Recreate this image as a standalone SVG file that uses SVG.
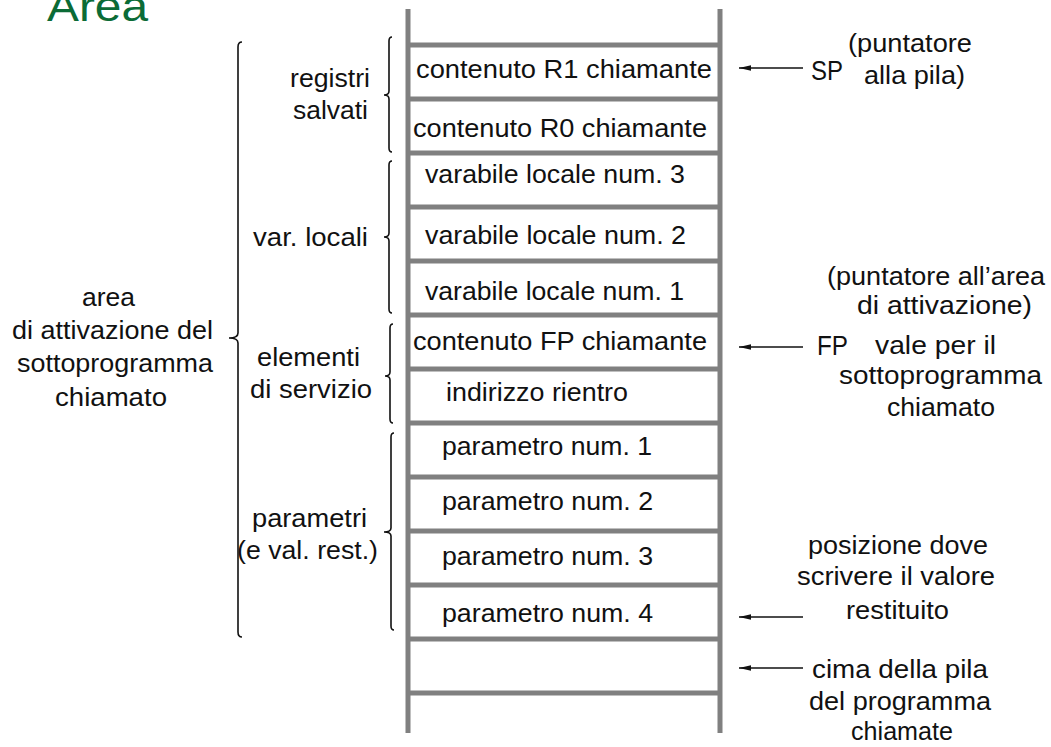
<svg xmlns="http://www.w3.org/2000/svg" width="1051" height="747" viewBox="0 0 1051 747">
  <style>
    text { font-family: "Liberation Sans", Arial, sans-serif; font-size: 25.5px; fill: #111; }
    .big { font-size: 27px; }
    .title { font-size: 42px; fill: #0b6b36; }
    .rail { stroke: #808080; stroke-width: 5; fill: none; }
    .sep { stroke: #808080; stroke-width: 5; }
    .brace { stroke: #111; stroke-width: 1.6; fill: none; stroke-linejoin: miter; }
    .ptr { stroke: #111; stroke-width: 1.6; marker-end: url(#head); }
  </style>
  <defs>
    <marker id="head" markerUnits="userSpaceOnUse" markerWidth="14" markerHeight="8" refX="12" refY="4" orient="auto">
      <path d="M0,1.2 L12,4 L0,6.8 Z" fill="#111"/>
    </marker>
  </defs>
  <rect width="1051" height="747" fill="#fff"/>

  <text class="title" x="47" y="21" textLength="101" lengthAdjust="spacingAndGlyphs">Area</text>

  <!-- stack frame: rails and cell separators -->
  <g id="stack">
    <line class="rail" x1="408" y1="9" x2="408" y2="733"/>
    <line class="rail" x1="720" y1="9" x2="720" y2="733"/>
    <line class="sep" x1="408" y1="45" x2="720" y2="45"/>
    <line class="sep" x1="408" y1="99" x2="720" y2="99"/>
    <line class="sep" x1="408" y1="153" x2="720" y2="153"/>
    <line class="sep" x1="408" y1="207" x2="720" y2="207"/>
    <line class="sep" x1="408" y1="261" x2="720" y2="261"/>
    <line class="sep" x1="408" y1="315" x2="720" y2="315"/>
    <line class="sep" x1="408" y1="369" x2="720" y2="369"/>
    <line class="sep" x1="408" y1="423" x2="720" y2="423"/>
    <line class="sep" x1="408" y1="477" x2="720" y2="477"/>
    <line class="sep" x1="408" y1="531" x2="720" y2="531"/>
    <line class="sep" x1="408" y1="585" x2="720" y2="585"/>
    <line class="sep" x1="408" y1="639" x2="720" y2="639"/>
    <line class="sep" x1="408" y1="693" x2="720" y2="693"/>
  </g>

  <g id="cell-r1"><text x="416" y="78" textLength="296" lengthAdjust="spacingAndGlyphs">contenuto R1 chiamante</text></g>
  <g id="cell-r0"><text x="413" y="137" textLength="294" lengthAdjust="spacingAndGlyphs">contenuto R0 chiamante</text></g>
  <g id="cell-var3"><text x="425" y="183" textLength="260" lengthAdjust="spacingAndGlyphs">varabile locale num. 3</text></g>
  <g id="cell-var2"><text x="425" y="244" textLength="261" lengthAdjust="spacingAndGlyphs">varabile locale num. 2</text></g>
  <g id="cell-var1"><text x="425" y="300" textLength="259" lengthAdjust="spacingAndGlyphs">varabile locale num. 1</text></g>
  <g id="cell-fp"><text x="413" y="350" textLength="294" lengthAdjust="spacingAndGlyphs">contenuto FP chiamante</text></g>
  <g id="cell-ret"><text x="446" y="401" textLength="182" lengthAdjust="spacingAndGlyphs">indirizzo rientro</text></g>
  <g id="cell-p1"><text x="442" y="455" textLength="210" lengthAdjust="spacingAndGlyphs">parametro num. 1</text></g>
  <g id="cell-p2"><text x="442" y="510" textLength="211" lengthAdjust="spacingAndGlyphs">parametro num. 2</text></g>
  <g id="cell-p3"><text x="442" y="565" textLength="211" lengthAdjust="spacingAndGlyphs">parametro num. 3</text></g>
  <g id="cell-p4"><text x="442" y="622" textLength="211" lengthAdjust="spacingAndGlyphs">parametro num. 4</text></g>

  <!-- braces grouping the cells -->
  <g id="braces">
    <path class="brace" d="M242,42 Q238,42 238,47 L238,333 Q238,338 229,338 Q238,338 238,343 L238,632 Q238,637 242,637"/>
    <path class="brace" d="M392,37 Q389,37 389,41 L389,91 Q389,95 384,95 Q389,95 389,99 L389,148 Q389,152 392,152"/>
    <path class="brace" d="M392,161 Q389,161 389,165 L389,233 Q389,237 384,237 Q389,237 389,241 L389,309 Q389,313 392,313"/>
    <path class="brace" d="M393,324 Q390,324 390,328 L390,372 Q390,376 385,376 Q390,376 390,380 L390,419 Q390,423 393,423"/>
    <path class="brace" d="M394,433 Q391,433 391,437 L391,528 Q391,532 384,532 Q391,532 391,536 L391,626 Q391,630 394,630"/>
  </g>

  <g id="label-area">
    <text x="82" y="306" textLength="53" lengthAdjust="spacingAndGlyphs">area</text>
    <text x="12" y="339" textLength="201" lengthAdjust="spacingAndGlyphs">di attivazione del</text>
    <text x="17" y="372" textLength="196" lengthAdjust="spacingAndGlyphs">sottoprogramma</text>
    <text x="55" y="406" textLength="112" lengthAdjust="spacingAndGlyphs">chiamato</text>
  </g>
  <g id="label-registri">
    <text x="290" y="87" textLength="80" lengthAdjust="spacingAndGlyphs">registri</text>
    <text x="293" y="119" textLength="75" lengthAdjust="spacingAndGlyphs">salvati</text>
  </g>
  <g id="label-locali">
    <text x="253" y="246" textLength="115" lengthAdjust="spacingAndGlyphs">var. locali</text>
  </g>
  <g id="label-servizio">
    <text x="257" y="366" textLength="103" lengthAdjust="spacingAndGlyphs">elementi</text>
    <text x="250" y="398" textLength="122" lengthAdjust="spacingAndGlyphs">di servizio</text>
  </g>
  <g id="label-parametri">
    <text x="252" y="527" textLength="115" lengthAdjust="spacingAndGlyphs">parametri</text>
    <text x="237" y="559" textLength="141" lengthAdjust="spacingAndGlyphs">(e val. rest.)</text>
  </g>

  <g id="label-sp">
    <text class="big" x="811" y="80" textLength="32" lengthAdjust="spacingAndGlyphs">SP</text>
    <text x="848" y="52" textLength="124" lengthAdjust="spacingAndGlyphs">(puntatore</text>
    <text x="864" y="84" textLength="101" lengthAdjust="spacingAndGlyphs">alla pila)</text>
  </g>
  <g id="label-fp">
    <text x="827" y="285" textLength="218" lengthAdjust="spacingAndGlyphs">(puntatore all’area</text>
    <text x="857" y="314" textLength="175" lengthAdjust="spacingAndGlyphs">di attivazione)</text>
    <text class="big" x="817" y="355" textLength="31" lengthAdjust="spacingAndGlyphs">FP</text>
    <text x="875" y="354" textLength="121" lengthAdjust="spacingAndGlyphs">vale per il</text>
    <text x="839" y="384" textLength="203" lengthAdjust="spacingAndGlyphs">sottoprogramma</text>
    <text x="887" y="416" textLength="108" lengthAdjust="spacingAndGlyphs">chiamato</text>
  </g>
  <g id="label-ret">
    <text x="808" y="554" textLength="180" lengthAdjust="spacingAndGlyphs">posizione dove</text>
    <text x="797" y="585" textLength="198" lengthAdjust="spacingAndGlyphs">scrivere il valore</text>
    <text x="846" y="619" textLength="103" lengthAdjust="spacingAndGlyphs">restituito</text>
  </g>
  <g id="label-top">
    <text x="812" y="678" textLength="176" lengthAdjust="spacingAndGlyphs">cima della pila</text>
    <text x="809" y="710" textLength="182" lengthAdjust="spacingAndGlyphs">del programma</text>
    <text x="851" y="740" textLength="102" lengthAdjust="spacingAndGlyphs">chiamate</text>
  </g>

  <!-- pointer arrows into the stack -->
  <g id="connectors">
    <line class="ptr" x1="803" y1="68" x2="739" y2="68"/>
    <line class="ptr" x1="803" y1="347" x2="739" y2="347"/>
    <line class="ptr" x1="803" y1="617" x2="739" y2="617"/>
    <line class="ptr" x1="803" y1="668" x2="739" y2="668"/>
  </g>
</svg>
